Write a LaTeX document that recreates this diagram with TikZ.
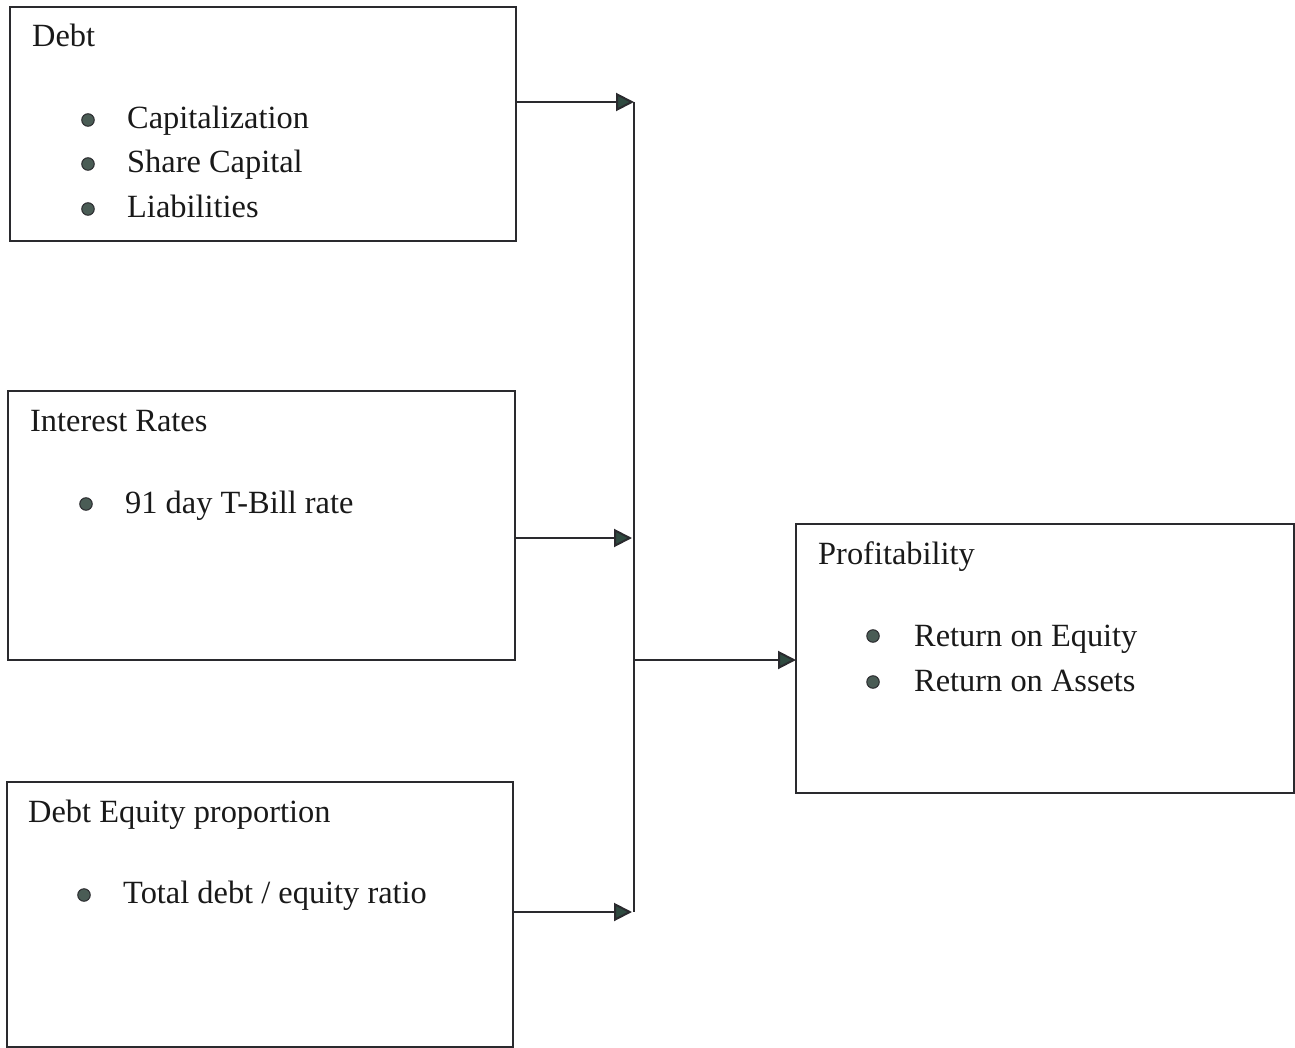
\documentclass[tikz,border=0pt]{standalone}
\usepackage{fontspec}
\setmainfont{Liberation Serif}
\usetikzlibrary{arrows.meta}
\definecolor{ink}{HTML}{2A2A2E}
\definecolor{tipfill}{HTML}{2F4A40}
\definecolor{dotfill}{HTML}{4A5C55}
\begin{document}
\begin{tikzpicture}[x=1pt,y=-1pt,
  box/.style={draw=ink,line width=2pt},
  lbl/.style={anchor=base west,inner sep=0pt,font=\fontsize{32.4}{38}\selectfont,text=black!90},
  dot/.style={circle,draw=ink,line width=1pt,fill=dotfill,minimum size=12.5pt,inner sep=0pt},
  conn/.style={draw=ink,line width=2pt},
  arr/.style={conn,-{Triangle[length=18pt,width=18pt,fill=tipfill]}}]
\useasboundingbox (0,0) rectangle (1295,1048);
% boxes
\draw[box] (10,7) rectangle (516,241);
\draw[box] (8,391) rectangle (515,660);
\draw[box] (7,782) rectangle (513,1047);
\draw[box] (796,524) rectangle (1294,793);
\coordinate (debtE) at (516,102);
\coordinate (intE) at (515,538);
\coordinate (deE) at (513,912);
\coordinate (profW) at (796,660);
\coordinate (j1) at (634,102);
\coordinate (j2) at (632,538);
\coordinate (j3) at (632,912);
\coordinate (jm) at (634,660);
% texts
\node[lbl] (t1) at (32,47) {Debt};
\node[dot] (b11) at (88,120) {};
\node[lbl] (t11) at (127,129) {Capitalization};
\node[dot] (b12) at (88,164) {};
\node[lbl] (t12) at (127,173) {Share Capital};
\node[dot] (b13) at (88,209) {};
\node[lbl] (t13) at (127,218) {Liabilities};
\node[lbl] (t2) at (30,431) {Interest Rates};
\node[dot] (b21) at (86,504) {};
\node[lbl] (t21) at (125,513) {91 day T-Bill rate};
\node[lbl] (t3) at (28,822) {Debt Equity proportion};
\node[dot] (b31) at (84,895) {};
\node[lbl] (t31) at (123,903) {Total debt / equity ratio};
\node[lbl] (t4) at (818,564) {Profitability};
\node[dot] (b41) at (873,636) {};
\node[lbl] (t41) at (914,646) {Return on Equity};
\node[dot] (b42) at (873,682) {};
\node[lbl] (t42) at (914,691) {Return on Assets};
% connectors
\draw[conn] (j1) -- (634,912);
\draw[arr] (debtE) -- (j1);
\draw[arr] (intE) -- (j2);
\draw[arr] (deE) -- (j3);
\draw[arr] (jm) -- (profW);
\end{tikzpicture}
\end{document}
